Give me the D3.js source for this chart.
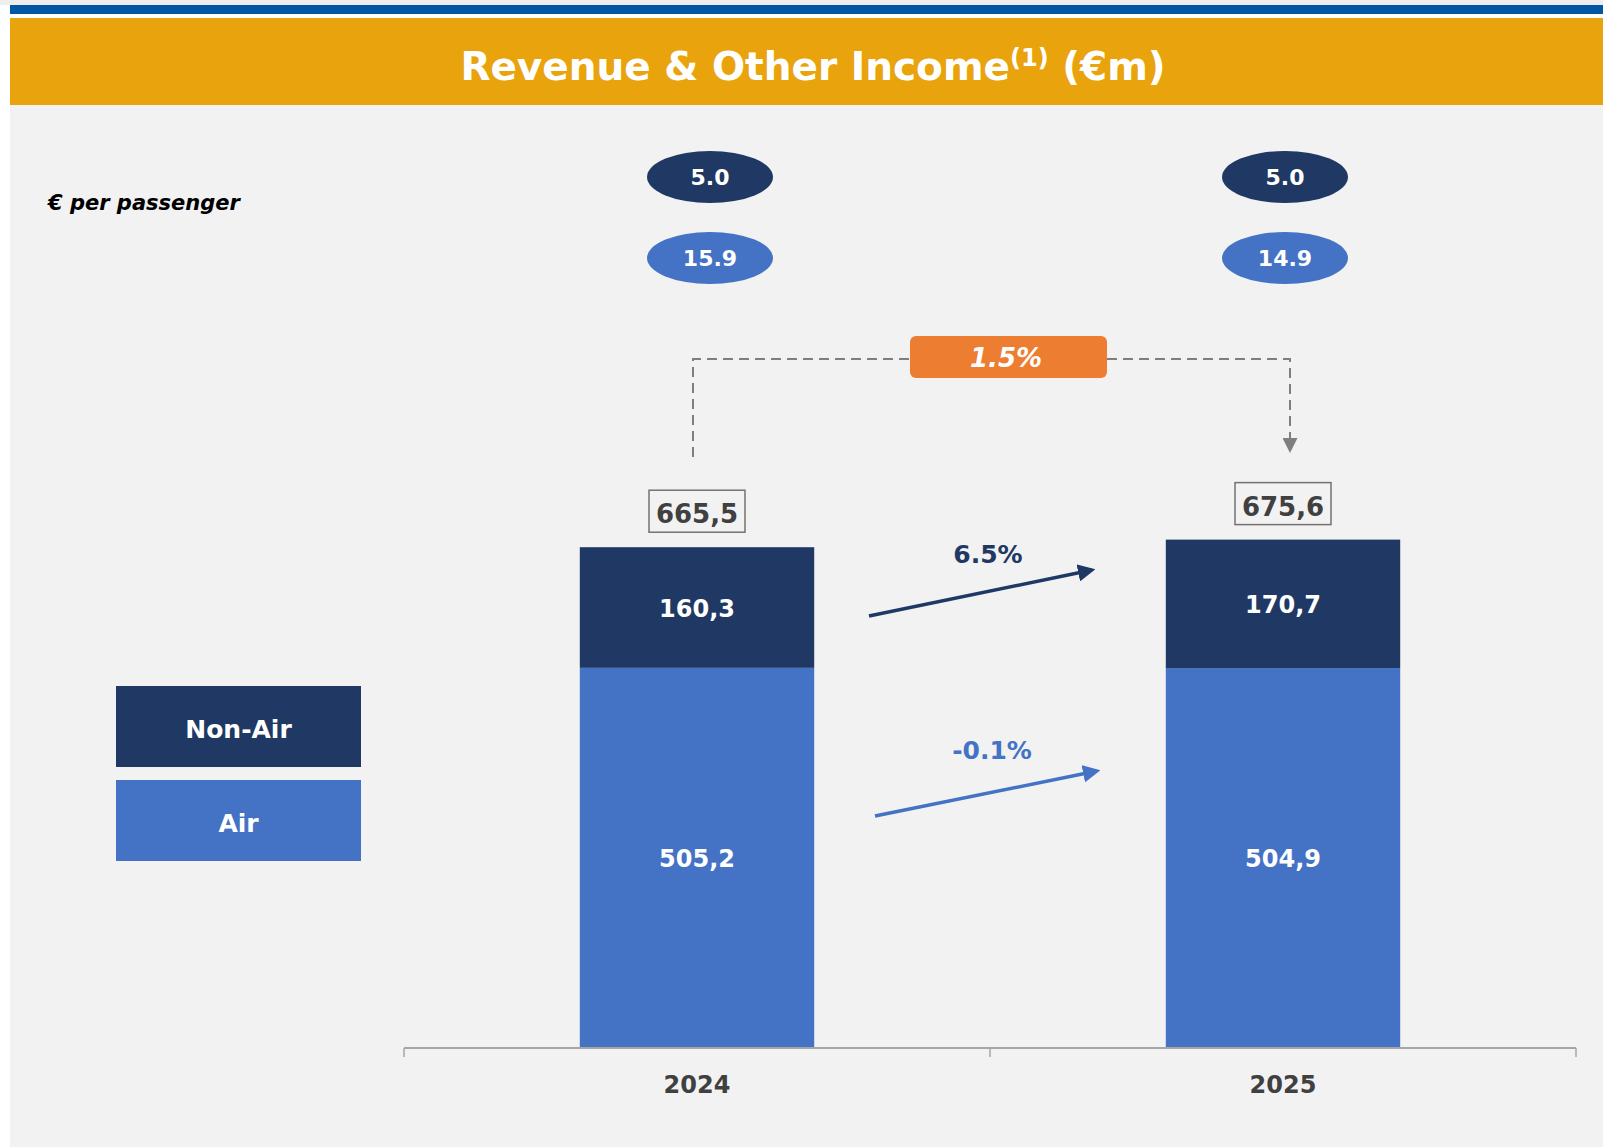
<!DOCTYPE html>
<html>
<head>
<meta charset="utf-8">
<script src="https://cdn.jsdelivr.net/npm/d3@7"></script>
<style>
  html, body { margin: 0; padding: 0; background: #fff; }
  svg { display: block; font-family: "DejaVu Sans", Verdana, sans-serif; }
</style>
</head>
<body>
<svg id="chart" width="1603" height="1147"></svg>
<script>
// chart data
const years = ['2024', '2025'];
const airValues = [505.2, 504.9];
const nonAirValues = [160.3, 170.7];
const totals = [665.5, 675.6];
const nonAirPerPax = [5.0, 5.0];
const airPerPax = [15.9, 14.9];
const totalGrowth = '1.5%';
const nonAirGrowth = '6.5%';
const airGrowth = '-0.1%';
const seriesNames = ['Non-Air', 'Air'];

const NAVY = '#1f3864', BLUE = '#4472c4', ORANGE = '#ed7d31', GOLD = '#e9a30d';
const fmt = v => v.toFixed(1).replace('.', ',');

const svg = d3.select('#chart');

// page frame: stripe, title band, grey panel
svg.append('rect').attr('x', 0).attr('y', 0).attr('width', 1603).attr('height', 5).attr('fill', '#eeeeee');
svg.append('rect').attr('x', 10).attr('y', 5).attr('width', 1593).attr('height', 9).attr('fill', '#0057a6');
svg.append('rect').attr('x', 10).attr('y', 18).attr('width', 1593).attr('height', 87).attr('fill', GOLD);
svg.append('rect').attr('x', 10).attr('y', 105).attr('width', 1593).attr('height', 1042).attr('fill', '#f2f2f2');

const title = svg.append('text').attr('x', 813).attr('y', 80).attr('text-anchor', 'middle')
  .attr('fill', '#fff').attr('font-weight', 'bold').attr('font-size', 39);
title.append('tspan').text('Revenue & Other Income');
title.append('tspan').attr('font-size', 24).attr('dy', -14).text('(1)');
title.append('tspan').attr('dy', 14).text(' (€m)');

svg.append('text').attr('x', 48).attr('y', 210).text('€ per passenger')
  .attr('font-weight', 'bold').attr('font-style', 'italic').attr('font-size', 21).attr('fill', '#000');

// scales
const x = d3.scaleBand().domain(years).range([404, 1576]).paddingInner(0.6).paddingOuter(0.3);
const y = d3.scaleLinear().domain([0, 800]).range([1048, 446]);
const cx = d => x(d) + x.bandwidth() / 2;

const rows = years.map((yr, i) => ({ yr, air: airValues[i], nonAir: nonAirValues[i], total: totals[i] }));

// stacked bars
const bars = svg.append('g');
bars.selectAll('rect.air').data(rows).join('rect').attr('class', 'air')
  .attr('x', d => x(d.yr)).attr('width', x.bandwidth())
  .attr('y', d => y(d.air)).attr('height', d => y(0) - y(d.air)).attr('fill', BLUE);
bars.selectAll('rect.non').data(rows).join('rect').attr('class', 'non')
  .attr('x', d => x(d.yr)).attr('width', x.bandwidth())
  .attr('y', d => y(d.air + d.nonAir)).attr('height', d => y(d.air) - y(d.air + d.nonAir)).attr('fill', NAVY);

bars.selectAll('text.airv').data(rows).join('text').attr('class', 'airv')
  .attr('x', d => cx(d.yr)).attr('y', d => (y(0) + y(d.air)) / 2 + 9)
  .attr('text-anchor', 'middle').attr('fill', '#fff').attr('font-weight', 'bold').attr('font-size', 24)
  .text(d => fmt(d.air));
bars.selectAll('text.nonv').data(rows).join('text').attr('class', 'nonv')
  .attr('x', d => cx(d.yr)).attr('y', d => (y(d.air) + y(d.air + d.nonAir)) / 2 + 9)
  .attr('text-anchor', 'middle').attr('fill', '#fff').attr('font-weight', 'bold').attr('font-size', 24)
  .text(d => fmt(d.nonAir));

// total boxes
const tot = svg.append('g').selectAll('g').data(rows).join('g')
  .attr('transform', d => `translate(${cx(d.yr)},${y(d.total) - 15})`);
tot.append('rect').attr('x', -48).attr('y', -42).attr('width', 96).attr('height', 42)
  .attr('fill', 'none').attr('stroke', '#767171').attr('stroke-width', 1.5);
tot.append('text').attr('y', -9).attr('text-anchor', 'middle').attr('fill', '#404040')
  .attr('font-weight', 'bold').attr('font-size', 26).text(d => fmt(d.total));

// x axis
const base = y(0);
const ax = svg.append('g').attr('stroke', '#a6a6a6').attr('stroke-width', 2);
ax.append('line').attr('x1', x.range()[0]).attr('x2', x.range()[1]).attr('y1', base).attr('y2', base);
const bounds = d3.range(years.length + 1).map(i => x.range()[0] + i * x.step());
ax.selectAll('line.tick').data(bounds).join('line').attr('class', 'tick')
  .attr('x1', d => d).attr('x2', d => d).attr('y1', base).attr('y2', base + 9).attr('stroke-width', 1.5);
svg.append('g').selectAll('text').data(years).join('text')
  .attr('x', d => cx(d)).attr('y', 1093).attr('text-anchor', 'middle')
  .attr('fill', '#404040').attr('font-weight', 'bold').attr('font-size', 24).text(d => d);

// per passenger ellipses
const px = d3.scalePoint().domain(years).range([710, 1285]);
const pax = svg.append('g').selectAll('g').data(years).join('g');
pax.append('ellipse').attr('cx', d => px(d)).attr('cy', 177).attr('rx', 63).attr('ry', 26).attr('fill', NAVY);
pax.append('ellipse').attr('cx', d => px(d)).attr('cy', 258).attr('rx', 63).attr('ry', 26).attr('fill', BLUE);
pax.append('text').attr('x', d => px(d)).attr('y', 185).attr('text-anchor', 'middle').attr('fill', '#fff')
  .attr('font-weight', 'bold').attr('font-size', 22).text((d, i) => nonAirPerPax[i].toFixed(1));
pax.append('text').attr('x', d => px(d)).attr('y', 266).attr('text-anchor', 'middle').attr('fill', '#fff')
  .attr('font-weight', 'bold').attr('font-size', 22).text((d, i) => airPerPax[i].toFixed(1));

// markers
const defs = svg.append('defs');
[['arrNavy', NAVY, 5], ['arrBlue', BLUE, 5], ['arrGrey', '#7f7f7f', 7.5]].forEach(([id, c, s]) => {
  defs.append('marker').attr('id', id).attr('viewBox', '0 0 10 10').attr('refX', 8).attr('refY', 5)
    .attr('markerWidth', s).attr('markerHeight', s).attr('orient', 'auto')
    .append('path').attr('d', 'M0,0 L10,5 L0,10 z').attr('fill', c);
});

// total growth bracket
const dash = svg.append('g').attr('fill', 'none').attr('stroke', '#7f7f7f').attr('stroke-width', 2).attr('stroke-dasharray', '10,6');
dash.append('path').attr('d', `M${cx('2024') - 4},457 V359 H910`);
dash.append('path').attr('d', `M1107,359 H1290 V450`).attr('marker-end', 'url(#arrGrey)');
svg.append('rect').attr('x', 910).attr('y', 336).attr('width', 197).attr('height', 42).attr('rx', 6)
  .attr('fill', ORANGE);
svg.append('text').attr('x', 1006).attr('y', 367).attr('text-anchor', 'middle').attr('fill', '#fff')
  .attr('font-weight', 'bold').attr('font-style', 'italic').attr('font-size', 26).text(totalGrowth);

// segment growth arrows
svg.append('line').attr('x1', 869).attr('y1', 616).attr('x2', 1092).attr('y2', 570)
  .attr('stroke', NAVY).attr('stroke-width', 3.5).attr('marker-end', 'url(#arrNavy)');
svg.append('text').attr('x', 988).attr('y', 563).attr('text-anchor', 'middle').attr('fill', NAVY)
  .attr('font-weight', 'bold').attr('font-size', 25).text(nonAirGrowth);
svg.append('line').attr('x1', 875).attr('y1', 816).attr('x2', 1097).attr('y2', 771)
  .attr('stroke', BLUE).attr('stroke-width', 3.5).attr('marker-end', 'url(#arrBlue)');
svg.append('text').attr('x', 992).attr('y', 759).attr('text-anchor', 'middle').attr('fill', BLUE)
  .attr('font-weight', 'bold').attr('font-size', 25).text(airGrowth);

// legend
const leg = svg.append('g').selectAll('g').data(seriesNames).join('g')
  .attr('transform', (d, i) => `translate(116,${686 + i * 94})`);
leg.append('rect').attr('width', 245).attr('height', 81).attr('fill', (d, i) => i === 0 ? NAVY : BLUE);
leg.append('text').attr('x', 122.5).attr('y', 52).attr('text-anchor', 'middle').attr('fill', '#fff')
  .attr('font-weight', 'bold').attr('font-size', 25).text(d => d);
</script>
</body>
</html>
